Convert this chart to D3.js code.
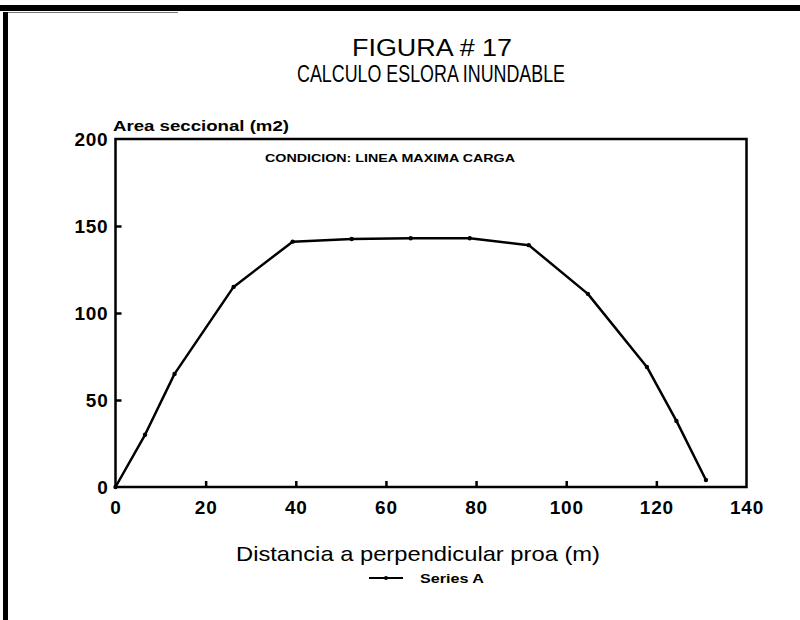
<!DOCTYPE html>
<html lang="es">
<head>
    <meta charset="UTF-8">
    <title>Figura 17</title>
    <script src="https://cdn.jsdelivr.net/npm/d3@7"></script>
    <style>
        body { margin: 0; background: #fff; }
        text { font-family: "Liberation Sans", Arial, sans-serif; fill: #000; }
    </style>
</head>
<body>
<script type="text/javascript">
    // datos: distancia (m) y area seccional (m2)
    var distancia = [0, 6.55, 13.1, 26.2, 39.3, 52.4, 65.5, 78.6, 91.7, 104.8, 117.9, 124.45, 131];
    var area = [0, 30, 65, 115, 141, 142.5, 143, 143, 139, 111, 69, 38, 4];
    var xTicks = [0, 20, 40, 60, 80, 100, 120, 140];
    var yTicks = [0, 50, 100, 150, 200];

    var width = 800, height = 620;
    var plot = {left: 115.5, right: 746.5, top: 139, bottom: 487};

    var svg = d3.select('body').append('svg')
        .attr('width', width)
        .attr('height', height);

    // marco del documento escaneado
    svg.append('rect').attr('x', 0).attr('y', 5).attr('width', 800).attr('height', 6).attr('fill', '#000');
    svg.append('line').attr('x1', 3).attr('x2', 178).attr('y1', 12.5).attr('y2', 12.5)
        .attr('stroke', '#777').attr('stroke-width', 1);
    svg.append('rect').attr('x', 3).attr('y', 12).attr('width', 5).attr('height', 608).attr('fill', '#000');

    var xScale = d3.scaleLinear().domain([0, 140]).range([plot.left, plot.right]);
    var yScale = d3.scaleLinear().domain([0, 200]).range([plot.bottom, plot.top]);

    // titulo
    svg.append('text').attr('x', 432).attr('y', 56).attr('text-anchor', 'middle')
        .attr('font-size', 23).attr('textLength', 160).attr('lengthAdjust', 'spacingAndGlyphs')
        .text('FIGURA # 17');
    svg.append('text').attr('x', 431).attr('y', 82).attr('text-anchor', 'middle')
        .attr('font-size', 24).attr('textLength', 268).attr('lengthAdjust', 'spacingAndGlyphs')
        .text('CALCULO ESLORA INUNDABLE');

    // marco del grafico
    svg.append('rect')
        .attr('x', plot.left).attr('y', plot.top)
        .attr('width', plot.right - plot.left).attr('height', plot.bottom - plot.top)
        .attr('fill', 'none').attr('stroke', '#000').attr('stroke-width', 2.5);

    // ejes
    var xAxis = d3.axisBottom(xScale).tickValues(xTicks).tickSize(-6).tickPadding(14);
    var yAxis = d3.axisLeft(yScale).tickValues(yTicks).tickSize(-6).tickPadding(7);

    var gx = svg.append('g').attr('transform', 'translate(0,' + plot.bottom + ')').call(xAxis);
    var gy = svg.append('g').attr('transform', 'translate(' + plot.left + ',0)').call(yAxis);
    [gx, gy].forEach(function (g) {
        g.select('.domain').remove();
        g.selectAll('line').attr('stroke', '#000').attr('stroke-width', 2.5);
        g.selectAll('text').attr('font-size', 19).attr('font-weight', 'bold')
            .attr('letter-spacing', 0.8)
            .attr('font-family', '"Liberation Sans", Arial, sans-serif').attr('fill', '#000');
    });
    gx.selectAll('.tick').filter(function (d) { return d === 0 || d === 140; }).select('line').remove();
    gy.selectAll('.tick').filter(function (d) { return d === 0 || d === 200; }).select('line').remove();

    // linea de la serie
    var line = d3.line()
        .x(function (d, i) { return xScale(distancia[i]); })
        .y(function (d) { return yScale(d); });
    svg.append('path').datum(area)
        .attr('d', line)
        .attr('fill', 'none').attr('stroke', '#000').attr('stroke-width', 2.5)
        .attr('stroke-linejoin', 'round');
    svg.selectAll('.punto').data(area).enter().append('circle')
        .attr('class', 'punto')
        .attr('cx', function (d, i) { return xScale(distancia[i]); })
        .attr('cy', function (d) { return yScale(d); })
        .attr('r', 2.2).attr('fill', '#000');

    // textos
    svg.append('text').attr('x', 113).attr('y', 131)
        .attr('font-size', 14).attr('font-weight', 'bold')
        .attr('textLength', 176).attr('lengthAdjust', 'spacingAndGlyphs')
        .text('Area seccional (m2)');
    svg.append('text').attr('x', 265).attr('y', 162)
        .attr('font-size', 11).attr('font-weight', 'bold')
        .attr('textLength', 250).attr('lengthAdjust', 'spacingAndGlyphs')
        .text('CONDICION: LINEA MAXIMA CARGA');
    svg.append('text').attr('x', 418).attr('y', 561).attr('text-anchor', 'middle')
        .attr('font-size', 21)
        .attr('textLength', 364).attr('lengthAdjust', 'spacingAndGlyphs')
        .text('Distancia a perpendicular proa (m)');

    // leyenda
    svg.append('line').attr('x1', 369).attr('x2', 403).attr('y1', 578).attr('y2', 578)
        .attr('stroke', '#000').attr('stroke-width', 2);
    svg.append('circle').attr('cx', 386).attr('cy', 578).attr('r', 2).attr('fill', '#000');
    svg.append('text').attr('x', 420).attr('y', 583)
        .attr('font-size', 13).attr('font-weight', 'bold')
        .attr('textLength', 64).attr('lengthAdjust', 'spacingAndGlyphs')
        .text('Series A');
</script>
</body>
</html>
